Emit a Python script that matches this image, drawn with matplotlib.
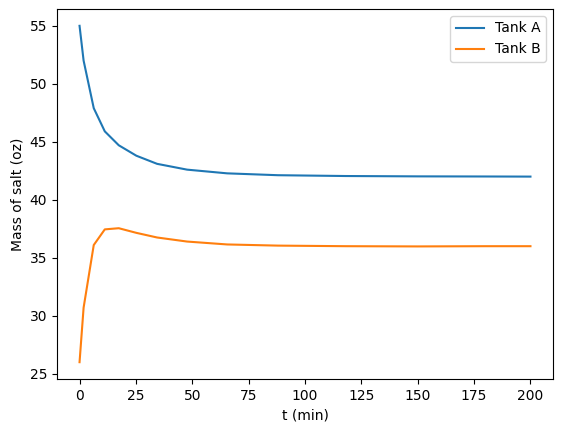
import matplotlib
matplotlib.use("Agg")
import matplotlib.pyplot as plt

# solver output
t = [0, 1.8, 6.3, 11.2, 17.4, 25.2, 34.4, 47.7, 65.5, 88, 118, 150, 180, 200]
tank_a = [55, 52.0, 47.9, 45.9, 44.7, 43.8, 43.1, 42.6, 42.28, 42.12, 42.05, 42.02, 42.01, 42.0]
tank_b = [26, 30.7, 36.1, 37.45, 37.55, 37.15, 36.75, 36.4, 36.15, 36.05, 36.0, 35.98, 36.0, 36.0]

fig = plt.figure(figsize=(5.62, 4.32), dpi=100)
ax = fig.add_axes([57 / 562, (432 - 379) / 432, 496 / 562, 370 / 432])

ax.plot(t, tank_a, label="Tank A")
ax.plot(t, tank_b, label="Tank B")

ax.set_xlabel("t (min)")
ax.set_ylabel("Mass of salt (oz)")
ax.legend()

fig.savefig("out.png", dpi=100)
